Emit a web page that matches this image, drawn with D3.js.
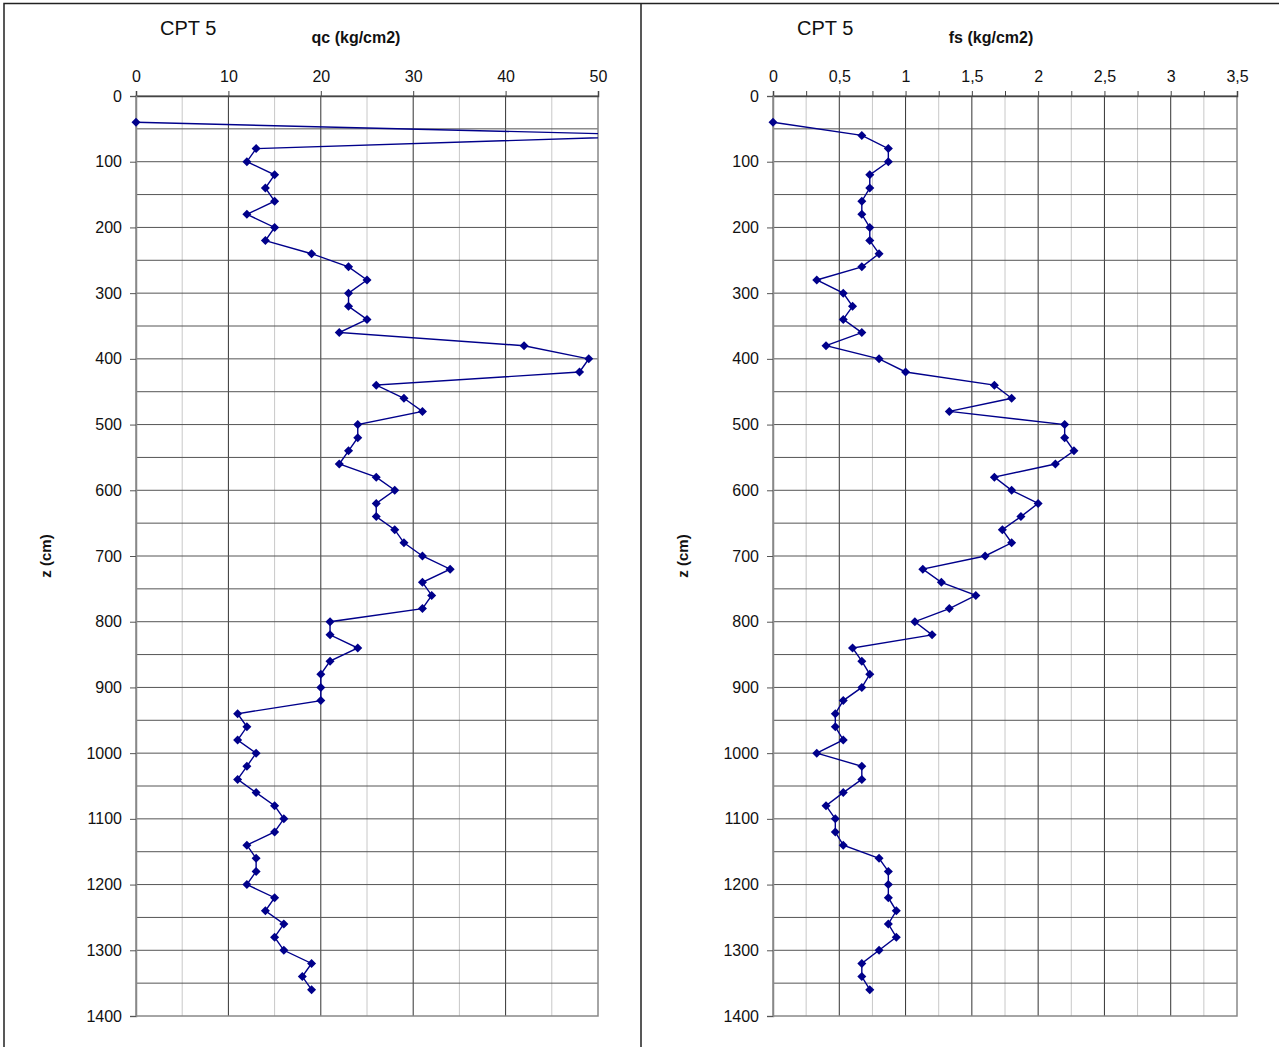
<!DOCTYPE html>
<html>
<head>
<meta charset="utf-8">
<script src="https://cdn.jsdelivr.net/npm/d3@7"></script>
<style>
  html, body { margin: 0; padding: 0; background: #fff; }
  svg { display: block; font-family: Arial, "Liberation Sans", sans-serif; }
</style>
</head>
<body>
<svg id="chart" width="1279" height="1047"></svg>
<script>
// Depth of each reading (cm)
const depths = [40, 60, 80, 100, 120, 140, 160, 180, 200, 220, 240, 260, 280, 300, 320, 340, 360, 380, 400, 420,
  440, 460, 480, 500, 520, 540, 560, 580, 600, 620, 640, 660, 680, 700, 720, 740, 760, 780, 800, 820,
  840, 860, 880, 900, 920, 940, 960, 980, 1000, 1020, 1040, 1060, 1080, 1100, 1120, 1140, 1160, 1180, 1200, 1220,
  1240, 1260, 1280, 1300, 1320, 1340, 1360];

// Cone resistance qc (kg/cm2)
const qcValues = [0, 58, 13, 12, 15, 14, 15, 12, 15, 14, 19, 23, 25, 23, 23, 25, 22, 42, 49, 48,
  26, 29, 31, 24, 24, 23, 22, 26, 28, 26, 26, 28, 29, 31, 34, 31, 32, 31, 21, 21,
  24, 21, 20, 20, 20, 11, 12, 11, 13, 12, 11, 13, 15, 16, 15, 12, 13, 13, 12, 15,
  14, 16, 15, 16, 19, 18, 19];

// Sleeve friction fs (kg/cm2)
const fsValues = [0, 0.67, 0.87, 0.87, 0.73, 0.73, 0.67, 0.67, 0.73, 0.73, 0.80, 0.67, 0.33, 0.53, 0.60, 0.53, 0.67, 0.40, 0.80, 1.00,
  1.67, 1.80, 1.33, 2.20, 2.20, 2.27, 2.13, 1.67, 1.80, 2.00, 1.87, 1.73, 1.80, 1.60, 1.13, 1.27, 1.53, 1.33, 1.07, 1.20,
  0.60, 0.67, 0.73, 0.67, 0.53, 0.47, 0.47, 0.53, 0.33, 0.67, 0.67, 0.53, 0.40, 0.47, 0.47, 0.53, 0.80, 0.87, 0.87, 0.87,
  0.93, 0.87, 0.93, 0.80, 0.67, 0.67, 0.73];

// Tick values
const qcTicks = [0, 10, 20, 30, 40, 50];
const fsTicks = [0, 0.5, 1, 1.5, 2, 2.5, 3, 3.5];
const depthTicks = [0, 100, 200, 300, 400, 500, 600, 700, 800, 900, 1000, 1100, 1200, 1300, 1400];

const svg = d3.select("#chart");
const FONT = "Arial, 'Liberation Sans', sans-serif";

// Outer frame and divider between the two sheets
svg.append("path")
  .attr("d", "M4,1047 V3.5 H1279 M641,3.5 V1047")
  .attr("fill", "none").attr("stroke", "#222").attr("stroke-width", 1.5);

function panel(opts) {
  const g = svg.append("g");
  const x = d3.scaleLinear().domain(opts.domain).range([opts.x0, opts.x1]);
  const y = d3.scaleLinear().domain([0, 1400]).range([96, 1016]);
  const clipId = opts.id + "-clip";

  g.append("clipPath").attr("id", clipId)
    .append("rect").attr("x", opts.x0 - 6).attr("y", 90)
    .attr("width", opts.x1 - opts.x0 + 6).attr("height", 932);

  // minor vertical grid
  const minor = d3.range(opts.domain[0], opts.domain[1] + 1e-9, opts.minorStep)
    .filter(v => Math.abs(v / opts.majorStep - Math.round(v / opts.majorStep)) > 1e-6);
  g.append("g").selectAll("line").data(minor).join("line")
    .attr("x1", d => x(d)).attr("x2", d => x(d))
    .attr("y1", y(0)).attr("y2", y(1400))
    .attr("stroke", "#c8c8c8").attr("stroke-width", 1);

  // major vertical grid
  g.append("g").selectAll("line").data(opts.ticks.slice(1, -1)).join("line")
    .attr("x1", d => x(d)).attr("x2", d => x(d))
    .attr("y1", y(0)).attr("y2", y(1400))
    .attr("stroke", "#333").attr("stroke-width", 1);

  // horizontal grid every 50 cm
  g.append("g").selectAll("line").data(d3.range(50, 1400, 50)).join("line")
    .attr("x1", opts.x0).attr("x2", opts.x1)
    .attr("y1", d => y(d)).attr("y2", d => y(d))
    .attr("stroke", "#555").attr("stroke-width", 1);

  // plot area border
  g.append("rect")
    .attr("x", opts.x0).attr("y", y(0))
    .attr("width", opts.x1 - opts.x0).attr("height", y(1400) - y(0))
    .attr("fill", "none").attr("stroke", "#888").attr("stroke-width", 1.5);

  // top axis
  const topAxis = d3.axisTop(x)
    .tickValues(opts.tickMarks)
    .tickSize(5)
    .tickFormat(d => opts.ticks.some(t => Math.abs(t - d) < 1e-9) ? opts.fmt(d) : "");
  const ta = g.append("g").attr("transform", `translate(0,${y(0)})`).call(topAxis);
  ta.select(".domain").attr("stroke", "#444").attr("stroke-width", 1.5);
  ta.selectAll(".tick line").attr("stroke", "#444");
  ta.selectAll(".tick text").attr("font-size", 16).attr("fill", "#111")
    .attr("font-family", FONT).attr("dy", "-6");

  // left axis
  const leftAxis = d3.axisLeft(y).tickValues(depthTicks).tickSize(6).tickFormat(d3.format("d"));
  const la = g.append("g").attr("transform", `translate(${opts.x0},0)`).call(leftAxis);
  la.select(".domain").attr("stroke", "#888").attr("stroke-width", 1.5);
  la.selectAll(".tick line").attr("stroke", "#555");
  la.selectAll(".tick text").attr("font-size", 16).attr("fill", "#111")
    .attr("font-family", FONT).attr("dx", "-5");

  // titles
  g.append("text").attr("x", opts.titleX).attr("y", 35)
    .attr("font-size", 20).attr("fill", "#111").text("CPT 5");
  g.append("text").attr("x", opts.labelX).attr("y", 43)
    .attr("text-anchor", "middle").attr("font-size", 16).attr("font-weight", "bold")
    .attr("fill", "#111").text(opts.label);
  g.append("text")
    .attr("transform", `translate(${opts.x0 - 85},${y(700)}) rotate(-90)`)
    .attr("text-anchor", "middle").attr("font-size", 15).attr("font-weight", "bold")
    .attr("fill", "#111").text("z (cm)");

  // data series
  const pts = depths.map((d, i) => [opts.values[i], d]);
  const plot = g.append("g").attr("clip-path", `url(#${clipId})`);
  plot.append("path")
    .datum(pts)
    .attr("d", d3.line().x(p => x(p[0])).y(p => y(p[1])))
    .attr("fill", "none").attr("stroke", "#00008b").attr("stroke-width", 1.4);
  const diamond = d3.symbol().type(d3.symbolDiamond2).size(52);
  plot.append("g").selectAll("path").data(pts.filter(p => p[0] <= opts.domain[1])).join("path")
    .attr("transform", p => `translate(${x(p[0])},${y(p[1])})`)
    .attr("d", diamond).attr("fill", "#00008b");
}

panel({
  id: "qc", domain: [0, 50], x0: 136, x1: 598,
  ticks: qcTicks, tickMarks: qcTicks, majorStep: 10, minorStep: 5,
  fmt: d3.format("d"), values: qcValues,
  label: "qc (kg/cm2)", labelX: 356, titleX: 160
});

panel({
  id: "fs", domain: [0, 3.5], x0: 773, x1: 1237,
  ticks: fsTicks, tickMarks: d3.range(0, 3.5001, 0.25), majorStep: 0.5, minorStep: 0.25,
  fmt: d => String(d).replace(".", ","), values: fsValues,
  label: "fs (kg/cm2)", labelX: 991, titleX: 797
});
</script>
</body>
</html>
